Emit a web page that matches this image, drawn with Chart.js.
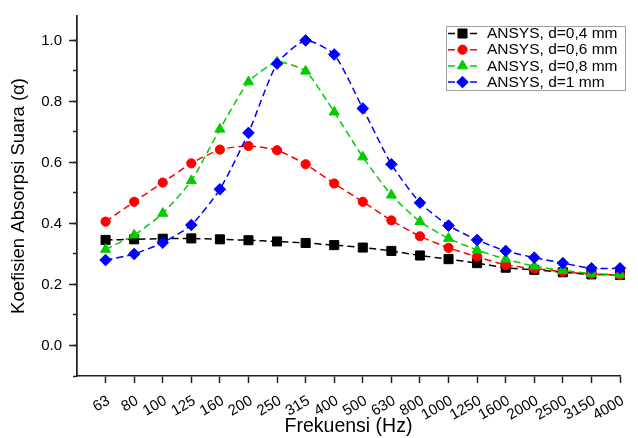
<!DOCTYPE html>
<html>
<head>
<meta charset="utf-8">
<script src="https://cdn.jsdelivr.net/npm/chart.js@4/dist/chart.umd.min.js"></script>
<style>
  html, body { margin: 0; padding: 0; background: #fff; }
  #wrap { width: 638px; height: 438px; }
</style>
</head>
<body>
<div id="wrap"><canvas id="c" width="638" height="438"></canvas></div>
<script>
// ---- data ----
const categories = ['63','80','100','125','160','200','250','315','400','500','630','800','1000','1250','1600','2000','2500','3150','4000'];
const seriesNames = ['ANSYS, d=0,4 mm','ANSYS, d=0,6 mm','ANSYS, d=0,8 mm','ANSYS, d=1 mm'];
const d04 = [0.346,0.348,0.350,0.351,0.348,0.345,0.341,0.336,0.329,0.321,0.310,0.295,0.283,0.270,0.255,0.248,0.240,0.233,0.231];
const d06 = [0.406,0.471,0.534,0.597,0.642,0.654,0.640,0.594,0.531,0.471,0.410,0.358,0.320,0.291,0.264,0.252,0.242,0.234,0.231];
const d08 = [0.315,0.362,0.433,0.540,0.709,0.864,0.929,0.899,0.765,0.618,0.493,0.406,0.351,0.313,0.283,0.260,0.246,0.236,0.232];
const d10 = [0.280,0.300,0.337,0.395,0.512,0.697,0.924,1.000,0.954,0.777,0.594,0.468,0.393,0.346,0.310,0.288,0.270,0.253,0.253];
const yTickStep = 0.2;
const yMinorStep = 0.1;

const FONT = '"Liberation Sans", Arial, Helvetica, sans-serif';
const colors = ['#000000', '#ff0000', '#00cc00', '#0000ff'];
const styles = ['rect', 'circle', 'triangle', 'rectRot'];
const radii = [6.4, 4.6, 5.8, 5.8];
const allSeries = [d04, d06, d08, d10];

const toXY = arr => arr.map((v, i) => ({x: i, y: v}));

const datasets = allSeries.map((arr, i) => ({
  label: seriesNames[i],
  data: toXY(arr),
  borderColor: colors[i],
  backgroundColor: colors[i],
  pointBackgroundColor: colors[i],
  pointBorderColor: colors[i],
  pointBorderWidth: 1,
  pointStyle: styles[i],
  pointRadius: radii[i],
  borderWidth: 1.5,
  borderDash: [7, 4],
  tension: 0.2,
  fill: false,
  clip: false,
  order: 4 - i
}));

function drawMarker(ctx, style, r, x, y, color) {
  ctx.save();
  ctx.fillStyle = color;
  ctx.strokeStyle = color;
  ctx.lineWidth = 1;
  ctx.setLineDash([]);
  ctx.beginPath();
  if (style === 'rect') {
    const s = r * Math.SQRT1_2;
    ctx.rect(x - s, y - s, 2 * s, 2 * s);
  } else if (style === 'circle') {
    ctx.arc(x, y, r, 0, Math.PI * 2);
  } else if (style === 'triangle') {
    let rad = 0;
    ctx.moveTo(x + Math.sin(rad) * r, y - Math.cos(rad) * r);
    rad += 2 * Math.PI / 3;
    ctx.lineTo(x + Math.sin(rad) * r, y - Math.cos(rad) * r);
    rad += 2 * Math.PI / 3;
    ctx.lineTo(x + Math.sin(rad) * r, y - Math.cos(rad) * r);
    ctx.closePath();
  } else {
    ctx.moveTo(x - r, y);
    ctx.lineTo(x, y - r);
    ctx.lineTo(x + r, y);
    ctx.lineTo(x, y + r);
    ctx.closePath();
  }
  ctx.fill();
  ctx.stroke();
  ctx.restore();
}

const customLegend = {
  id: 'customLegend',
  afterDraw(chart) {
    const ctx = chart.ctx;
    const bx = 446, by = 26, bw = 179, bh = 64;
    ctx.save();
    ctx.fillStyle = '#ffffff';
    ctx.fillRect(bx, by, bw, bh);
    ctx.strokeStyle = '#a0a0a0';
    ctx.lineWidth = 1;
    ctx.strokeRect(bx + 0.5, by + 0.5, bw, bh);
    chart.data.datasets.forEach((ds, i) => {
      const y = by + 7.5 + i * 16.2;
      ctx.strokeStyle = ds.borderColor;
      ctx.lineWidth = 1.5;
      ctx.setLineDash([]);
      ctx.beginPath();
      ctx.moveTo(448, y); ctx.lineTo(455, y);
      ctx.moveTo(470, y); ctx.lineTo(477, y);
      ctx.stroke();
      drawMarker(ctx, ds.pointStyle, ds.pointRadius, 462.5, y, ds.pointBackgroundColor);
      ctx.fillStyle = '#000';
      ctx.font = '15.5px ' + FONT;
      ctx.textAlign = 'left';
      ctx.textBaseline = 'middle';
      ctx.fillText(ds.label, 487, y + 0.5);
    });
    ctx.restore();
  }
};

new Chart(document.getElementById('c'), {
  type: 'line',
  data: { datasets },
  plugins: [customLegend],
  options: {
    responsive: false,
    animation: false,
    devicePixelRatio: 1,
    layout: { padding: { top: 15, right: 9, left: 0, bottom: 0 } },
    plugins: { legend: { display: false }, tooltip: { enabled: false } },
    scales: {
      x: {
        type: 'linear',
        position: 'bottom',
        min: -1,
        max: categories.length - 1,
        afterBuildTicks: s => { s.ticks = s.ticks.filter(t => t.value >= 0); },
        afterFit: s => { s.height = 62; },
        ticks: {
          stepSize: 1,
          autoSkip: false,
          includeBounds: false,
          minRotation: 30,
          maxRotation: 30,
          padding: 9,
          labelOffset: 3,
          color: '#000',
          font: { family: FONT, size: 15 },
          callback: v => categories[Math.round(v)] ?? ''
        },
        grid: { display: true, drawOnChartArea: false, drawTicks: true, tickLength: 7, tickColor: '#222', tickWidth: 1.5 },
        border: { display: true, color: '#222', width: 1.5 },
        title: { display: true, text: 'Frekuensi (Hz)', color: '#000', font: { family: FONT, size: 19.5 }, padding: { top: 0, bottom: 0 } }
      },
      y: {
        type: 'linear',
        position: 'left',
        weight: 2,
        min: -0.1,
        max: 1.08,
        afterFit: s => { s.width = 77; },
        ticks: {
          stepSize: yTickStep,
          includeBounds: false,
          padding: 7,
          color: '#000',
          font: { family: FONT, size: 15 },
          callback: v => (Math.abs(v) < 1e-9 ? 0 : v).toFixed(1)
        },
        grid: { display: true, drawOnChartArea: false, drawTicks: true, tickLength: 8, tickColor: '#222', tickWidth: 1.5 },
        border: { display: true, color: '#222', width: 1.5 },
        title: { display: true, text: 'Koefisien Absorpsi Suara (α)', color: '#000', font: { family: FONT, size: 18.5 }, padding: { top: 8, bottom: 0 } }
      },
      y2: {
        type: 'linear',
        position: 'left',
        weight: 1,
        min: -0.1,
        max: 1.08,
        afterFit: s => { s.width = 0; },
        ticks: { display: false, stepSize: yMinorStep, includeBounds: false },
        grid: { display: true, drawOnChartArea: false, drawTicks: true, tickLength: 4, tickColor: '#222', tickWidth: 1.5 },
        border: { display: true, color: '#222', width: 1.5 }
      }
    }
  }
});
</script>
</body>
</html>
